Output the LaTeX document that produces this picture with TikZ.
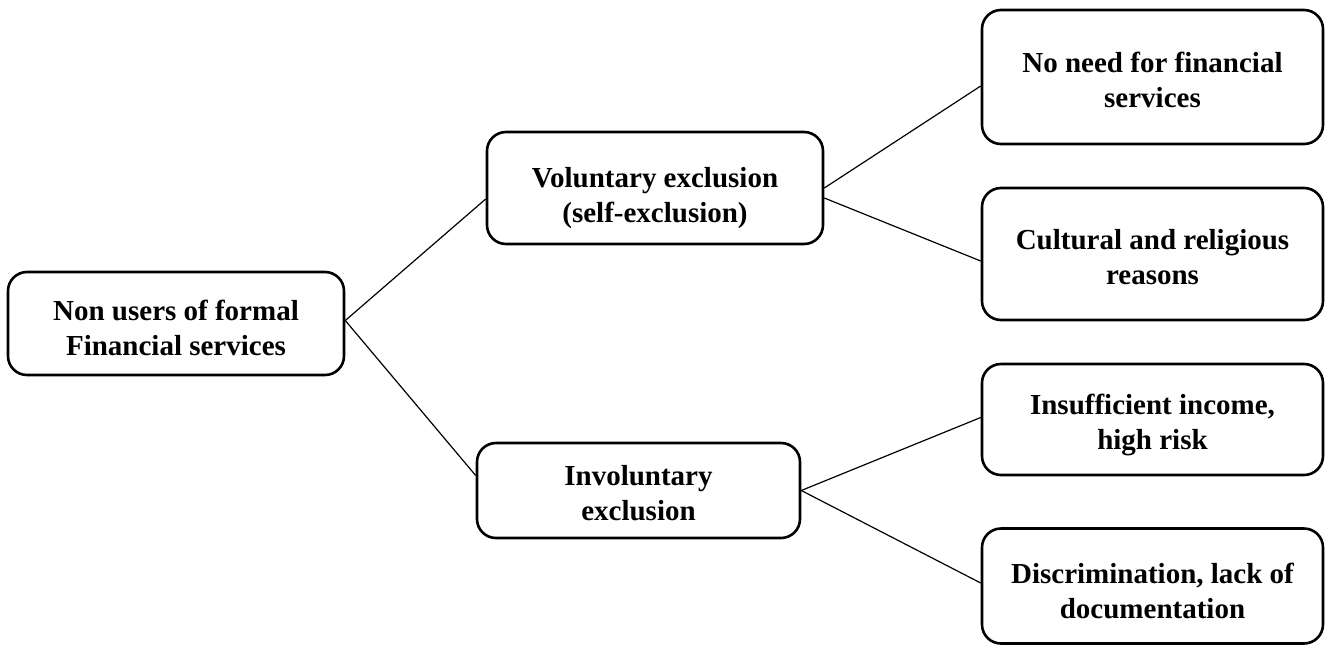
\documentclass[tikz,border=0pt]{standalone}
\usepackage{fontspec}
\setmainfont{Liberation Serif}
\begin{document}
\begin{tikzpicture}[x=1pt,y=-1pt,
  box/.style={draw, line width=2.6pt, rounded corners=19pt, inner sep=0pt},
  txt/.style={align=center, font=\fontsize{29}{35}\selectfont\bfseries, inner sep=0pt},
  link/.style={line width=1.2pt}]
  \useasboundingbox (0,0) rectangle (1326,646);
  % root
  \node[box, minimum width=336pt, minimum height=103pt,
    label={[txt, yshift=-4pt]center:Non users of formal\\Financial services}] (root) at (176,323.5) {};
  % second level
  \node[box, minimum width=336pt, minimum height=112pt,
    label={[txt, yshift=-10pt]center:Voluntary exclusion\\(self-exclusion)}] (vol) at (655,188) {};
  \node[box, minimum width=323pt, minimum height=95pt,
    label={[txt, yshift=-3pt]center:Involuntary\\exclusion}] (invol) at (638.5,490.5) {};
  % third level
  \node[box, minimum width=341pt, minimum height=134pt,
    label={[txt, yshift=-3pt]center:No need for financial\\services}] (noneed) at (1152.5,77) {};
  \node[box, minimum width=341pt, minimum height=132pt,
    label={[txt, yshift=-3pt]center:Cultural and religious\\reasons}] (cult) at (1152.5,254) {};
  \node[box, minimum width=341pt, minimum height=111pt,
    label={[txt, yshift=-5pt]center:Insufficient income,\\high risk}] (insuf) at (1152.5,419.5) {};
  \node[box, minimum width=341pt, minimum height=115pt,
    label={[txt, yshift=-5pt]center:Discrimination, lack of\\documentation}] (discr) at (1152.5,586) {};
  % connectors
  \draw[link] ([yshift=3pt]root.east) -- ([yshift=-11pt]vol.west);
  \draw[link] ([yshift=3pt]root.east) -- ([yshift=15pt]invol.west);
  \draw[link] (vol.east) -- ([yshift=-9pt]noneed.west);
  \draw[link] ([yshift=-10pt]vol.east) -- ([yshift=-7pt]cult.west);
  \draw[link] (invol.east) -- ([yshift=2pt]insuf.west);
  \draw[link] (invol.east) -- ([yshift=3pt]discr.west);
\end{tikzpicture}
\end{document}
